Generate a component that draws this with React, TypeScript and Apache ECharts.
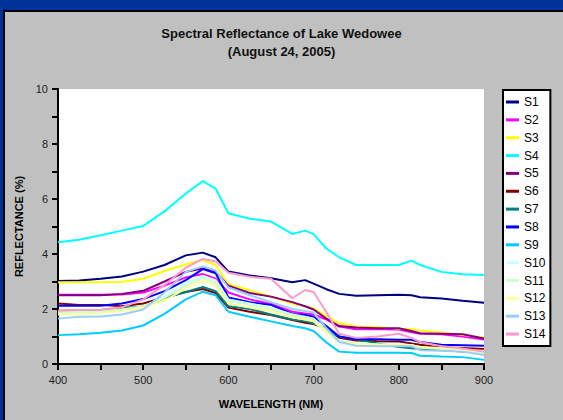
import React, { useEffect, useRef } from "react";
import * as echarts from "echarts";

const wavelengths = [400, 425, 450, 475, 500, 525, 550, 570, 585, 600, 625, 650, 675, 690, 700, 715, 730, 750, 775, 800, 815, 825, 850, 875, 900];

const seriesNames = ["S1", "S2", "S3", "S4", "S5", "S6", "S7", "S8", "S9", "S10", "S11", "S12", "S13", "S14"];
const seriesColors = ["#000080", "#FF00FF", "#FFFF00", "#00FFFF", "#800080", "#800000", "#008080", "#0000FF", "#00CCFF", "#CCFFFF", "#CCFFCC", "#FFFF99", "#99CCFF", "#FF99CC"];

const s1 = [3.02, 3.04, 3.1, 3.18, 3.36, 3.6, 3.95, 4.05, 3.88, 3.36, 3.22, 3.12, 2.97, 3.05, 2.92, 2.72, 2.55, 2.48, 2.5, 2.52, 2.5, 2.43, 2.38, 2.3, 2.23];
const s2 = [2.52, 2.52, 2.52, 2.53, 2.6, 2.85, 3.15, 3.27, 3.1, 2.6, 2.35, 2.18, 1.9, 1.84, 1.8, 1.62, 1.36, 1.26, 1.26, 1.25, 1.15, 1.1, 1.08, 1.0, 0.89];
const s3 = [2.97, 2.97, 2.97, 2.98, 3.1, 3.38, 3.62, 3.78, 3.6, 2.9, 2.68, 2.45, 2.2, 2.1, 2.02, 1.75, 1.48, 1.36, 1.35, 1.28, 1.27, 1.22, 1.15, 1.05, 0.96];
const s4 = [4.43, 4.52, 4.68, 4.85, 5.02, 5.55, 6.2, 6.65, 6.38, 5.48, 5.28, 5.18, 4.73, 4.85, 4.72, 4.2, 3.88, 3.6, 3.6, 3.6, 3.76, 3.6, 3.35, 3.26, 3.24];
const s5 = [2.5, 2.5, 2.5, 2.55, 2.66, 3.0, 3.35, 3.47, 3.36, 2.85, 2.58, 2.45, 2.25, 2.1, 1.98, 1.65, 1.38, 1.33, 1.3, 1.3, 1.2, 1.12, 1.1, 1.08, 0.93];
const s6 = [2.2, 2.15, 2.15, 2.1, 2.2, 2.42, 2.62, 2.73, 2.58, 2.05, 1.9, 1.78, 1.6, 1.5, 1.45, 1.3, 0.95, 0.85, 0.83, 0.82, 0.75, 0.7, 0.6, 0.58, 0.55];
const s7 = [1.94, 1.95, 1.96, 2.05, 2.08, 2.4, 2.62, 2.8, 2.65, 2.1, 2.0, 1.8, 1.62, 1.55, 1.48, 1.25, 1.0, 0.9, 0.75, 0.62, 0.57, 0.55, 0.5, 0.45, 0.42];
const s8 = [2.12, 2.12, 2.12, 2.2, 2.36, 2.65, 3.05, 3.45, 3.3, 2.42, 2.25, 2.15, 1.82, 1.78, 1.72, 1.38, 1.0, 0.9, 0.9, 0.88, 0.88, 0.8, 0.7, 0.68, 0.66];
const s9 = [1.05, 1.08, 1.14, 1.22, 1.4, 1.82, 2.35, 2.63, 2.5, 1.9, 1.72, 1.55, 1.38, 1.3, 1.2, 0.78, 0.45, 0.41, 0.41, 0.41, 0.4, 0.3, 0.27, 0.25, 0.15];
const s10 = [1.85, 1.87, 1.9, 1.95, 2.08, 2.45, 2.95, 3.2, 3.05, 2.35, 2.2, 2.05, 1.8, 1.72, 1.65, 1.2, 0.85, 0.72, 0.7, 0.68, 0.65, 0.6, 0.55, 0.5, 0.35];
const s11 = [1.89, 1.9, 1.92, 1.98, 2.1, 2.4, 2.85, 3.12, 2.95, 2.3, 2.15, 2.0, 1.75, 1.68, 1.6, 1.2, 0.85, 0.75, 0.72, 0.7, 0.68, 0.6, 0.55, 0.5, 0.4];
const s12 = [1.8, 1.8, 1.85, 1.92, 2.05, 2.3, 2.75, 3.02, 2.85, 2.2, 2.05, 1.92, 1.7, 1.62, 1.55, 1.15, 0.8, 0.72, 0.7, 0.7, 0.68, 0.62, 0.58, 0.52, 0.45];
const s13 = [1.65, 1.72, 1.73, 1.8, 1.98, 2.6, 3.35, 3.55, 3.4, 2.78, 2.5, 2.25, 2.0, 1.93, 1.87, 1.3, 0.8, 0.66, 0.65, 0.65, 0.65, 0.5, 0.48, 0.45, 0.33];
const s14 = [1.94, 1.96, 1.97, 2.06, 2.35, 2.87, 3.5, 3.82, 3.74, 3.32, 3.17, 3.1, 2.39, 2.69, 2.62, 1.88, 1.1, 0.95, 1.0, 1.1, 0.95, 0.8, 0.65, 0.56, 0.45];

const seriesValues = [s1, s2, s3, s4, s5, s6, s7, s8, s9, s10, s11, s12, s13, s14];

const FONT = "Liberation Sans, Arial, sans-serif";

export default function App() {
  const ref = useRef<HTMLDivElement>(null);
  useEffect(() => {
    document.body.style.margin = "0";
    document.body.style.background = "#C0C0C0";
    if (!ref.current) return;
    const chart = echarts.init(ref.current, undefined, { renderer: "svg" });
    chart.setOption({
      animation: false,
      backgroundColor: "#C0C0C0",
      graphic: [
        { type: "rect", silent: true, z: 100, shape: { x: 0, y: 0, width: 563, height: 10 }, style: { fill: "#003399" } },
        { type: "rect", silent: true, z: 100, shape: { x: 0, y: 0, width: 3, height: 420 }, style: { fill: "#003399" } },
        { type: "rect", silent: true, z: 100, shape: { x: 3, y: 10, width: 560, height: 2 }, style: { fill: "#000" } },
        { type: "rect", silent: true, z: 100, shape: { x: 3, y: 10, width: 2, height: 410 }, style: { fill: "#000" } },
        { type: "rect", silent: true, z: 100, shape: { x: 552, y: 12, width: 11, height: 408 }, style: { fill: "#C0C0C0" } },
        { type: "rect", silent: true, z: 100, shape: { x: 5, y: 410, width: 558, height: 10 }, style: { fill: "#C0C0C0" } },
      ],
      title: {
        text: "Spectral Reflectance of Lake Wedowee\n(August 24, 2005)",
        left: "center",
        top: 19,
        textStyle: { fontFamily: FONT, fontSize: 13, fontWeight: "bold", color: "#111", lineHeight: 18 },
      },
      legend: {
        orient: "vertical",
        left: 503,
        top: 90,
        padding: [5, 5, 5, 3],
        itemWidth: 13,
        itemHeight: 3,
        itemGap: 3.85,
        icon: "rect",
        backgroundColor: "#fff",
        borderColor: "#000",
        borderWidth: 2,
        borderRadius: 0,
        textStyle: { fontFamily: FONT, fontSize: 12, color: "#000", lineHeight: 14 },
        data: seriesNames,
      },
      grid: {
        left: 58,
        right: 79,
        top: 89,
        bottom: 56,
        show: true,
        backgroundColor: "#fff",
        borderWidth: 0,
      },
      xAxis: {
        type: "value",
        min: 400,
        max: 900,
        interval: 50,
        name: "WAVELENGTH (NM)",
        nameLocation: "middle",
        nameGap: 34,
        nameTextStyle: { fontFamily: FONT, fontSize: 11, fontWeight: "bold", color: "#000" },
        axisLine: { show: true, lineStyle: { color: "#000", width: 2 } },
        axisTick: { show: true, length: 6, lineStyle: { color: "#000", width: 2 } },
        axisLabel: {
          fontFamily: FONT,
          fontSize: 11,
          color: "#222",
          margin: 10,
          formatter: (v: number) => (v % 100 === 0 ? String(v) : ""),
        },
        splitLine: { show: false },
      },
      yAxis: {
        type: "value",
        min: 0,
        max: 10,
        interval: 1,
        name: "REFLECTANCE (%)",
        nameLocation: "middle",
        nameGap: 32,
        nameTextStyle: { fontFamily: FONT, fontSize: 11, fontWeight: "bold", color: "#000" },
        axisLine: { show: true, lineStyle: { color: "#000", width: 2 } },
        axisTick: { show: true, length: 6, lineStyle: { color: "#000", width: 2 } },
        axisLabel: {
          fontFamily: FONT,
          fontSize: 11,
          color: "#222",
          margin: 10,
          formatter: (v: number) => (v % 2 === 0 ? String(v) : ""),
        },
        splitLine: { show: false },
      },
      series: seriesNames.map((name, i) => ({
        name,
        type: "line",
        showSymbol: false,
        symbol: "none",
        color: seriesColors[i],
        lineStyle: { color: seriesColors[i], width: 2 },
        data: wavelengths.map((w, j) => [w, seriesValues[i][j]]),
      })),
    });
    return () => chart.dispose();
  }, []);
  return (
    <div
      ref={ref}
      style={{ position: "absolute", left: 0, top: 0, width: 563, height: 420 }}
    />
  );
}
